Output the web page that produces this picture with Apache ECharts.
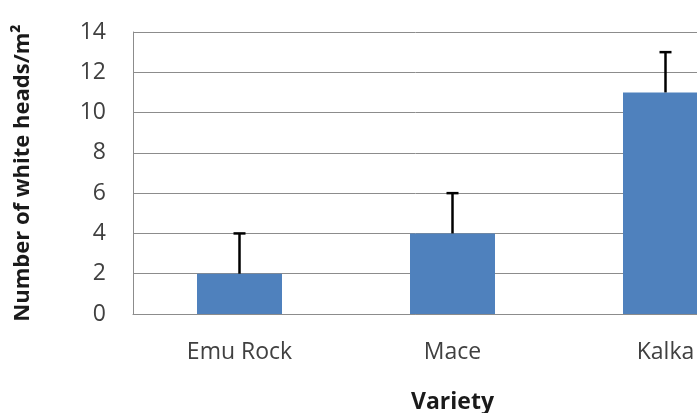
<!DOCTYPE html>
<html><head>
<meta charset="UTF-8">
<title>White heads by variety</title>
<style>
  html, body { margin: 0; padding: 0; background: #fff; }
  #chart { width: 697px; height: 413px; }
</style>
</head>
<body>
<div id="chart"></div>
<script src="https://cdn.jsdelivr.net/npm/echarts@6/dist/echarts.min.js"></script>
<script>
  // data
  const varieties = ['Emu Rock', 'Mace', 'Kalka'];
  const heads = [2, 4, 11];
  const errorUp = [2, 2, 2];

  const chart = echarts.init(document.getElementById('chart'));
  const fontFam = '"Open Sans", "Noto Sans", sans-serif';

  chart.setOption({
    animation: false,
    // plot runs past the right edge, the reference is cropped there
    grid: { left: 133, top: 32, width: 639, height: 282, outerBoundsMode: 'none', containLabel: false },
    xAxis: {
      type: 'category',
      data: varieties,
      name: 'Variety',
      nameLocation: 'middle',
      nameGap: 77,
      nameTextStyle: { fontFamily: fontFam, fontWeight: 'bold', fontSize: 23, color: '#1a1a1a' },
      axisLine: { lineStyle: { color: '#8c8c8c', width: 1 } },
      axisTick: { show: false },
      axisLabel: { fontFamily: fontFam, fontSize: 23, color: '#404040', margin: 27 }
    },
    yAxis: {
      type: 'value',
      min: 0, max: 14, interval: 2,
      name: 'Number of white heads/m²',
      nameLocation: 'middle',
      nameGap: 99,
      nameRotate: 90,
      nameTextStyle: { fontFamily: fontFam, fontWeight: 'bold', fontSize: 22, color: '#1a1a1a' },
      axisLine: { show: true, lineStyle: { color: '#8c8c8c', width: 1 } },
      axisTick: { show: false },
      axisLabel: { fontFamily: fontFam, fontSize: 23, color: '#404040', margin: 27 },
      splitLine: { lineStyle: { color: '#8c8c8c', width: 1 } }
    },
    series: [
      {
        type: 'bar',
        data: heads,
        barWidth: 85,
        itemStyle: { color: '#4f81bd' },
        z: 2
      },
      {
        type: 'custom',
        z: 3,
        data: heads.map((v, i) => [i, v, v + errorUp[i]]),
        renderItem: function (params, api) {
          const base = api.coord([api.value(0), api.value(1)]);
          const top = api.coord([api.value(0), api.value(2)]);
          const cap = 6;
          return {
            type: 'group',
            children: [
              { type: 'line', shape: { x1: base[0], y1: base[1], x2: top[0], y2: top[1] },
                style: { stroke: '#000', lineWidth: 2.5 } },
              { type: 'line', shape: { x1: top[0] - cap, y1: top[1], x2: top[0] + cap, y2: top[1] },
                style: { stroke: '#000', lineWidth: 2.5 } }
            ]
          };
        }
      }
    ]
  });
</script>
</body></html>
